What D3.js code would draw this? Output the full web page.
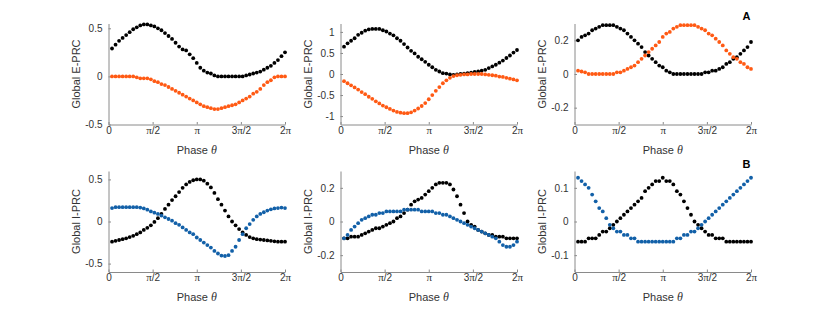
<!DOCTYPE html>
<html>
<head>
<meta charset="utf-8">
<script src="https://cdnjs.cloudflare.com/ajax/libs/d3/7.8.5/d3.min.js"></script>
<style>
    body { margin: 0; background: #fff; }
    svg text { font-family: "Liberation Sans", Arial, sans-serif; fill: #333; }
</style>
</head>
<body>
<div id="chart"></div>
<script>

// phase grid: 50 samples, k*2pi/50
var nPoints = 50;
var phase = d3.range(1, nPoints + 1).map(function (k) { return k * 2 * Math.PI / nPoints; });

var phaseTickValues = [0, Math.PI / 2, Math.PI, 3 * Math.PI / 2, 2 * Math.PI];
var phaseTickLabels = ["0", "π/2", "π", "3π/2", "2π"];

// A: excitatory PRCs
var blackA1 = [0.29,0.33,0.37,0.40,0.43,0.46,0.49,0.51,0.53,0.54,
               0.54,0.53,0.52,0.50,0.48,0.45,0.42,0.39,0.35,0.31,
               0.28,0.27,0.23,0.19,0.14,0.09,0.06,0.04,0.03,0.01,
               0,0,0,0,0,0,0,0,0.01,0.02,
               0.03,0.04,0.05,0.07,0.09,0.11,0.14,0.17,0.21,0.25];
var orangeA1 = [0,0,0,0,0,0,0,-0.01,-0.02,-0.02,
                -0.02,-0.03,-0.05,-0.06,-0.08,-0.09,-0.11,-0.13,-0.15,-0.17,
                -0.19,-0.21,-0.23,-0.25,-0.27,-0.29,-0.31,-0.32,-0.33,-0.34,
                -0.34,-0.33,-0.32,-0.31,-0.30,-0.29,-0.27,-0.25,-0.23,-0.21,
                -0.18,-0.16,-0.13,-0.09,-0.06,-0.04,-0.01,0,0,0];

var blackA2 = [0.65,0.73,0.79,0.85,0.93,0.98,1.03,1.06,1.07,1.07,
               1.07,1.04,1.01,0.96,0.92,0.85,0.79,0.71,0.63,0.55,
               0.49,0.41,0.35,0.29,0.22,0.16,0.10,0.06,0.02,0.01,
               -0.01,-0.02,-0.01,0,0.01,0.02,0.03,0.05,0.06,0.08,
               0.10,0.14,0.18,0.22,0.27,0.32,0.38,0.44,0.51,0.57];
var orangeA2 = [-0.17,-0.22,-0.27,-0.32,-0.37,-0.43,-0.48,-0.54,-0.59,-0.65,
                -0.70,-0.75,-0.79,-0.83,-0.87,-0.90,-0.92,-0.93,-0.93,-0.91,
                -0.87,-0.82,-0.76,-0.69,-0.60,-0.50,-0.40,-0.31,-0.22,-0.15,
                -0.09,-0.05,-0.03,-0.02,-0.01,-0.01,0,0,0,0,
                -0.01,-0.02,-0.03,-0.04,-0.06,-0.07,-0.09,-0.11,-0.13,-0.15];

var blackA3 = [0.20,0.22,0.23,0.24,0.26,0.27,0.28,0.29,0.29,0.29,
               0.29,0.28,0.27,0.26,0.24,0.22,0.20,0.18,0.16,0.13,
               0.11,0.09,0.07,0.05,0.04,0.02,0.01,0,0,0,
               0,0,0,0,0,0,0.01,0.01,0.02,0.02,
               0.03,0.04,0.06,0.07,0.09,0.10,0.12,0.14,0.16,0.19];
var orangeA3 = [0.02,0.015,0.01,0,0,0,0,0,0,0,
                0,0.01,0.01,0.02,0.03,0.04,0.05,0.07,0.09,0.11,
                0.13,0.15,0.17,0.19,0.22,0.24,0.25,0.27,0.28,0.29,
                0.29,0.29,0.29,0.29,0.28,0.27,0.26,0.24,0.23,0.21,
                0.19,0.17,0.14,0.12,0.10,0.09,0.07,0.06,0.04,0.03];

// B: inhibitory PRCs
var blackB1 = [-0.24,-0.23,-0.22,-0.21,-0.20,-0.185,-0.17,-0.15,-0.13,-0.10,
               -0.075,-0.045,-0.005,0.04,0.09,0.15,0.20,0.255,0.30,0.35,
               0.40,0.44,0.47,0.49,0.50,0.50,0.485,0.45,0.405,0.34,
               0.265,0.20,0.13,0.06,0,-0.045,-0.09,-0.13,-0.16,-0.185,
               -0.20,-0.21,-0.215,-0.22,-0.225,-0.23,-0.235,-0.24,-0.24,-0.24];
var blueB1 = [0.16,0.17,0.17,0.17,0.17,0.17,0.17,0.17,0.165,0.155,
              0.14,0.12,0.105,0.09,0.07,0.05,0.03,0.01,-0.02,-0.04,
              -0.07,-0.10,-0.13,-0.15,-0.19,-0.22,-0.25,-0.28,-0.31,-0.35,
              -0.38,-0.405,-0.41,-0.40,-0.35,-0.30,-0.22,-0.15,-0.08,-0.03,
              0.02,0.06,0.09,0.11,0.13,0.145,0.155,0.16,0.165,0.16];

var blackB2 = [-0.10,-0.10,-0.09,-0.09,-0.09,-0.08,-0.07,-0.06,-0.05,-0.04,
               -0.04,-0.03,-0.02,-0.01,0,0.02,0.03,0.05,0.07,0.10,
               0.12,0.13,0.14,0.16,0.18,0.20,0.22,0.23,0.23,0.23,
               0.22,0.19,0.15,0.10,0.05,0,-0.02,-0.03,-0.05,-0.06,
               -0.07,-0.08,-0.08,-0.09,-0.09,-0.09,-0.10,-0.10,-0.10,-0.10];
var blueB2 = [-0.10,-0.08,-0.05,-0.03,-0.01,0.01,0.02,0.03,0.04,0.04,
              0.05,0.05,0.06,0.06,0.06,0.06,0.06,0.07,0.07,0.07,
              0.07,0.07,0.06,0.06,0.06,0.06,0.05,0.05,0.04,0.04,
              0.03,0.02,0.01,0,-0.01,-0.02,-0.03,-0.04,-0.05,-0.06,
              -0.07,-0.08,-0.09,-0.10,-0.12,-0.14,-0.15,-0.15,-0.14,-0.12];

var blackB3 = [-0.06,-0.06,-0.06,-0.05,-0.05,-0.05,-0.04,-0.03,-0.03,-0.02,
               -0.01,0,0.01,0.02,0.03,0.04,0.05,0.06,0.07,0.09,
               0.10,0.11,0.12,0.12,0.13,0.12,0.12,0.11,0.09,0.08,
               0.06,0.04,0.02,0,-0.01,-0.02,-0.03,-0.04,-0.04,-0.05,
               -0.05,-0.05,-0.06,-0.06,-0.06,-0.06,-0.06,-0.06,-0.06,-0.06];
var blueB3 = [0.13,0.12,0.11,0.10,0.08,0.06,0.04,0.03,0.01,-0.01,
              -0.02,-0.03,-0.03,-0.04,-0.04,-0.05,-0.05,-0.06,-0.06,-0.06,
              -0.06,-0.06,-0.06,-0.06,-0.06,-0.06,-0.06,-0.06,-0.05,-0.05,
              -0.04,-0.04,-0.03,-0.03,-0.02,-0.01,0,0.01,0.02,0.03,
              0.04,0.05,0.06,0.07,0.08,0.09,0.10,0.11,0.12,0.13];

// y limits and ticks per panel
var yDomains = [[-0.5, 0.55], [-1.2, 1.2], [-0.3, 0.3], [-0.6, 0.6], [-0.3, 0.3], [-0.15, 0.15]];
var yTicks = [[-0.5, 0, 0.5], [-1, -0.5, 0, 0.5, 1], [-0.2, 0, 0.2],
              [-0.5, 0, 0.5], [-0.2, 0, 0.2], [-0.1, 0, 0.1]];

var orange = "#ff5a14";
var blue = "#1260a8";

var panels = [
    { col: 0, row: 0, black: blackA1, other: orangeA1, color: orange, yLabel: "Global E-PRC" },
    { col: 1, row: 0, black: blackA2, other: orangeA2, color: orange, yLabel: "Global E-PRC" },
    { col: 2, row: 0, black: blackA3, other: orangeA3, color: orange, yLabel: "Global E-PRC" },
    { col: 0, row: 1, black: blackB1, other: blueB1, color: blue, yLabel: "Global I-PRC" },
    { col: 1, row: 1, black: blackB2, other: blueB2, color: blue, yLabel: "Global I-PRC" },
    { col: 2, row: 1, black: blackB3, other: blueB3, color: blue, yLabel: "Global I-PRC" }
];

/////////////////////////////////////////////////
// LAYOUT
/////////////////////////////////////////////////

var colLeft = [108.5, 340.5, 574.5];
var rowTop = [23.5, 171];
var plotW = 176.5;
var plotH = 101;
var axisColor = "#8a8a8a";

var svg = d3.select("#chart").append("svg")
    .attr("width", 830)
    .attr("height", 312);

var x = d3.scaleLinear().domain([0, 2 * Math.PI]).range([0, plotW]);

panels.forEach(function (p, i) {

    var g = svg.append("g")
        .attr("transform", "translate(" + colLeft[p.col] + "," + rowTop[p.row] + ")");

    var y = d3.scaleLinear().domain(yDomains[i]).range([plotH, 0]);

    // x axis, ticks pointing inward
    var xAxisG = g.append("g")
        .attr("transform", "translate(0," + plotH + ")")
        .call(d3.axisBottom(x).tickValues(phaseTickValues).tickSize(-2.5).tickSizeOuter(0)
            .tickPadding(2).tickFormat(""));

    xAxisG.selectAll(".tick text").each(function (d, j) {
        var t = d3.select(this);
        var parts = phaseTickLabels[j].split("π");
        parts.forEach(function (s, m) {
            if (m > 0) t.append("tspan").attr("font-family", "Liberation Serif").attr("font-size", 11).text("π");
            if (s) t.append("tspan").text(s);
        });
    });

    // y axis
    var yAxisG = g.append("g")
        .call(d3.axisLeft(y).tickValues(yTicks[i]).tickSize(-2.5).tickSizeOuter(0)
            .tickPadding(6).tickFormat(function (d) { return String(d); }));

    [xAxisG, yAxisG].forEach(function (a) {
        a.attr("font-family", null).attr("font-size", 10);
        a.selectAll("path.domain").attr("stroke", axisColor);
        a.selectAll(".tick line").attr("stroke", axisColor);
        a.selectAll(".tick text").attr("fill", "#333");
    });

    // labels
    var xl = g.append("text")
        .attr("x", plotW / 2)
        .attr("y", plotH + 29)
        .attr("text-anchor", "middle")
        .attr("font-size", 11)
        .text("Phase ");
    xl.append("tspan")
        .attr("font-family", "Liberation Serif")
        .attr("font-style", "italic")
        .attr("font-size", 12)
        .text("θ");

    g.append("text")
        .attr("transform", "translate(-28.5," + plotH / 2 + ") rotate(-90)")
        .attr("text-anchor", "middle")
        .attr("font-size", 11)
        .text(p.yLabel);

    // dots: black first, coloured on top
    [[p.black, "#000"], [p.other, p.color]].forEach(function (s) {
        g.append("g").selectAll("circle")
            .data(phase.map(function (t, k) { return [t, s[0][k]]; }))
            .enter()
            .append("circle")
            .attr("cx", function (d) { return x(d[0]); })
            .attr("cy", function (d) { return y(d[1]); })
            .attr("r", 1.9)
            .attr("fill", s[1]);
    });
});

// panel letters
svg.append("text").attr("x", 742.5).attr("y", 20).attr("font-size", 11)
    .attr("font-weight", "bold").style("fill", "#000").text("A");
svg.append("text").attr("x", 742.5).attr("y", 167.5).attr("font-size", 11)
    .attr("font-weight", "bold").style("fill", "#000").text("B");

</script>
</body>
</html>
